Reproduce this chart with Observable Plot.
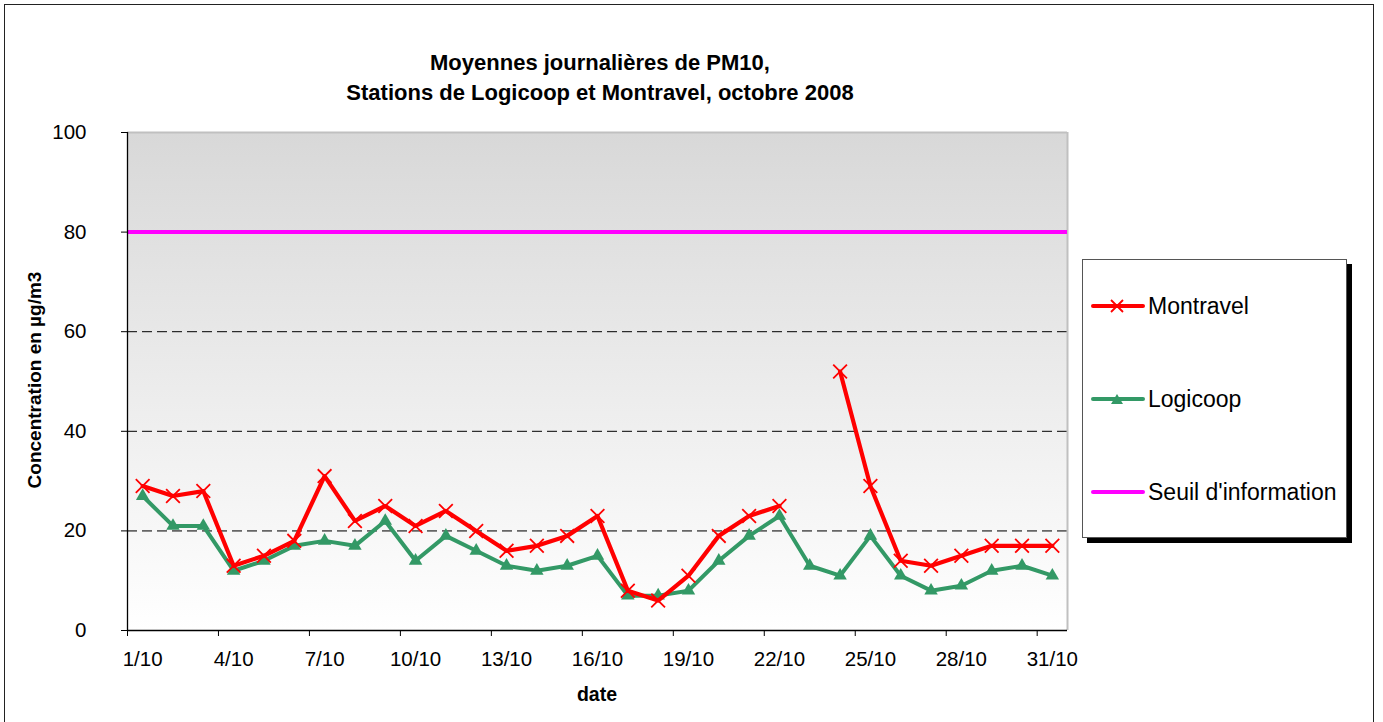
<!DOCTYPE html>
<html>
<head>
<meta charset="utf-8">
<script src="https://cdn.jsdelivr.net/npm/d3@7"></script>
<script src="https://cdn.jsdelivr.net/npm/@observablehq/plot@0.6"></script>
<style>
  html, body { margin: 0; padding: 0; background: #fff; }
  body { font-family: "Liberation Sans", Arial, sans-serif; }
  #wrap { position: relative; width: 1383px; height: 722px; overflow: hidden; }
  #frame { position: absolute; left: 4px; top: 4px; width: 1370px; height: 740px; border: 1.5px solid #222; box-sizing: border-box; }
  #chart { position: absolute; left: 0; top: 0; }
  .title { position: absolute; left: 300px; width: 600px; text-align: center; font-weight: bold; font-size: 22px; color: #000; white-space: nowrap; }
  #ytitle { position: absolute; left: 35px; top: 380px; transform: translate(-50%, -50%) rotate(-90deg); font-weight: bold; font-size: 19px; white-space: nowrap; }
  #xtitle { position: absolute; left: 597px; top: 694px; transform: translate(-50%, -50%); font-weight: bold; font-size: 19.5px; }
  #legend { position: absolute; left: 1082px; top: 259px; width: 265px; height: 279px; border: 1px solid #555; background: #fff; box-shadow: 5px 5px 0 #000; box-sizing: border-box; }
  .entry { position: absolute; left: 8px; height: 30px; display: flex; align-items: center; font-size: 23px; }
  .entry svg { margin-right: 3px; }
</style>
</head>
<body>
<div id="wrap">
  <div id="frame"></div>
  <div id="chart"></div>
  <div class="title" style="top:50px">Moyennes journalières de PM10,</div>
  <div class="title" style="top:80px">Stations de Logicoop et Montravel, octobre 2008</div>
  <div id="ytitle">Concentration en µg/m3</div>
  <div id="xtitle">date</div>
  <div id="legend"></div>
</div>
<script>
// ---- data ----
const days = ["1/10","2/10","3/10","4/10","5/10","6/10","7/10","8/10","9/10","10/10",
  "11/10","12/10","13/10","14/10","15/10","16/10","17/10","18/10","19/10","20/10",
  "21/10","22/10","23/10","24/10","25/10","26/10","27/10","28/10","29/10","30/10","31/10"];
const montravel = [29,27,28,13,15,18,31,22,25,21,24,20,16,17,19,23,8,6,11,19,23,25,null,52,29,14,13,15,17,17,17];
const logicoop = [27,21,21,12,14,17,18,17,22,14,19,16,13,12,13,15,7,7,8,14,19,23,13,11,19,11,8,9,12,13,11];
const seuil = [80];
const yTicks = [0,20,40,60,80,100];
const gridValues = [20,40,60];
const tickLabelDays = ["1/10","4/10","7/10","10/10","13/10","16/10","19/10","22/10","25/10","28/10","31/10"];
const seriesNames = ["Montravel","Logicoop","Seuil d'information"];
const seriesColors = ["#ff0000","#339966","#ff00ff"];

// ---- build table ----
const idx = d => days.indexOf(d) + 1;
const mData = days.map((d,i) => ({x: i+1, y: montravel[i]}));
const lData = days.map((d,i) => ({x: i+1, y: logicoop[i]}));
const labelPos = tickLabelDays.map(idx);
const boundaryPos = tickLabelDays.map(d => idx(d) - 0.5);

const fontSize = "20.5px";
const plot = Plot.plot({
  width: 1383,
  height: 722,
  marginLeft: 127,
  marginRight: 316,
  marginTop: 132,
  marginBottom: 92,
  style: {fontFamily: '"Liberation Sans", Arial, sans-serif', color: "#000", background: "transparent", overflow: "visible"},
  x: {domain: [0.5, days.length + 0.5]},
  y: {domain: [0, 100]},
  marks: [
    Plot.frame({fill: "url(#bggrad)", stroke: "none"}),
    Plot.ruleY([gridValues[2], gridValues[1]], {stroke: "#000", strokeWidth: 1, strokeDasharray: "10,5"}),
    Plot.ruleY([gridValues[0]], {stroke: "#666", strokeWidth: 1.6, strokeDasharray: "10,5"}),
    Plot.ruleY([100], {stroke: "#c0c0c0", strokeWidth: 2}),
    Plot.ruleX([days.length + 0.5], {stroke: "#c0c0c0", strokeWidth: 2}),
    Plot.ruleY(seuil, {stroke: seriesColors[2], strokeWidth: 4}),
    Plot.ruleX([0.5], {stroke: "#000", strokeWidth: 1.3}),
    Plot.ruleY([0], {stroke: "#000", strokeWidth: 1.3}),
    Plot.axisY({ticks: yTicks, tickSize: 6, tickPadding: 35, fontSize, label: null, tickFormat: d => String(d)}),
    Plot.axisX({ticks: boundaryPos, tickSize: 6, tickFormat: () => "", label: null}),
    Plot.axisX({ticks: labelPos, tickSize: 0, tickPadding: 21, fontSize, label: null, tickFormat: d => days[d-1]}),
    Plot.line(lData, {x: "x", y: "y", stroke: seriesColors[1], strokeWidth: 4}),
    Plot.dot(lData, {x: "x", y: "y", symbol: "triangle", r: 5, fill: seriesColors[1], stroke: "none"}),
    Plot.line(mData, {x: "x", y: "y", stroke: seriesColors[0], strokeWidth: 4.2}),
    Plot.dot(mData, {x: "x", y: "y", symbol: "times", r: 6.3, stroke: seriesColors[0], strokeWidth: 1.8})
  ]
});

const defs = d3.select(plot).insert("defs", ":first-child");
const g = defs.append("linearGradient").attr("id", "bggrad").attr("x1", 0).attr("y1", 0).attr("x2", 0).attr("y2", 1);
g.append("stop").attr("offset", "0%").attr("stop-color", "#d8d8d8");
g.append("stop").attr("offset", "100%").attr("stop-color", "#ffffff");
document.getElementById("chart").appendChild(plot);

// ---- legend ----
const legend = document.getElementById("legend");
const tops = [31, 124, 217];
seriesNames.forEach((name, i) => {
  const e = document.createElement("div");
  e.className = "entry";
  e.style.top = tops[i] + "px";
  let marker = "";
  if (i === 0) marker = `<path d="M20,9 L32,21 M32,9 L20,21" stroke="${seriesColors[0]}" stroke-width="1.8"/>`;
  if (i === 1) marker = `<path d="M26,10 L32,20 L20,20 Z" fill="${seriesColors[1]}"/>`;
  e.innerHTML = `<svg width="54" height="30"><line x1="2" y1="15" x2="52" y2="15" stroke="${seriesColors[i]}" stroke-width="4" stroke-linecap="round"/>${marker}</svg><span>${name}</span>`;
  legend.appendChild(e);
});
</script>
</body>
</html>
